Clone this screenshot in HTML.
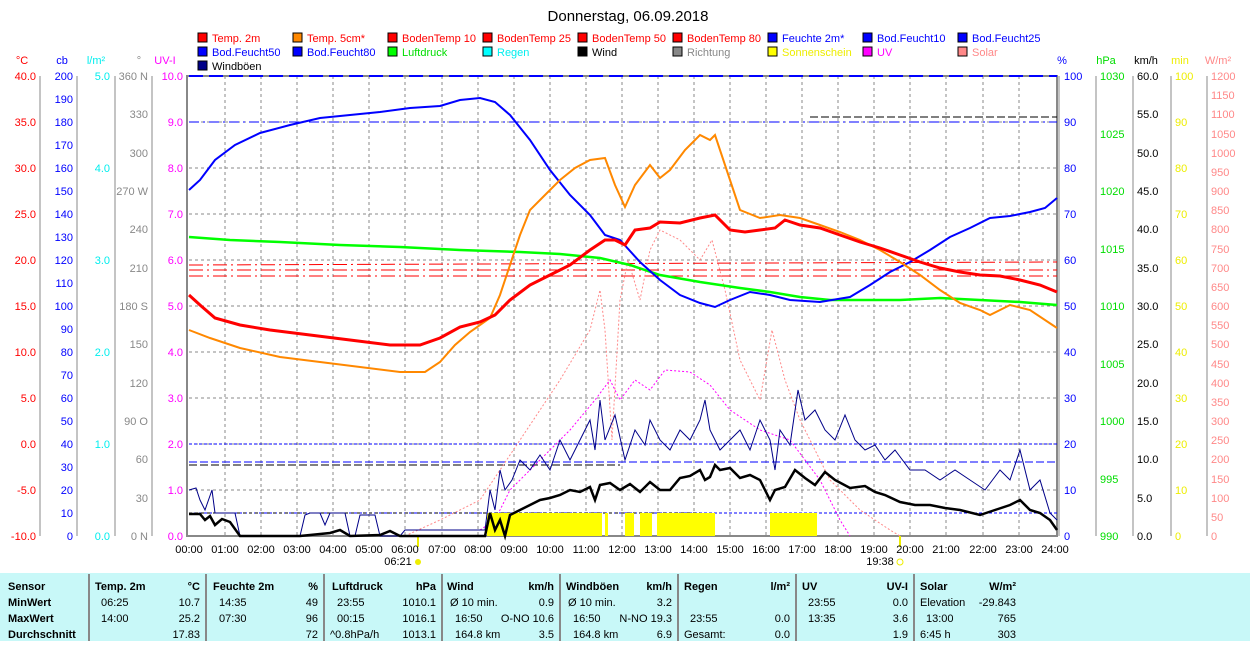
<!DOCTYPE html><html><head><meta charset="utf-8"><style>
body{margin:0;background:#fff;width:1250px;height:641px;overflow:hidden}
svg{font-family:"Liberation Sans",sans-serif;font-size:11px}
</style></head><body>
<svg width="1250" height="641" viewBox="0 0 1250 641">
<text x="628" y="21" font-size="15" text-anchor="middle">Donnerstag, 06.09.2018</text>
<!-- legend -->
<g font-size="11">
<rect x="198" y="33" width="9" height="9" fill="#f00" stroke="#000"/><text x="212" y="42" fill="#f00">Temp. 2m</text>
<rect x="293" y="33" width="9" height="9" fill="#f80" stroke="#000"/><text x="307" y="42" fill="#f00">Temp. 5cm*</text>
<rect x="388" y="33" width="9" height="9" fill="#f00" stroke="#000"/><text x="402" y="42" fill="#f00">BodenTemp 10</text>
<rect x="483" y="33" width="9" height="9" fill="#f00" stroke="#000"/><text x="497" y="42" fill="#f00">BodenTemp 25</text>
<rect x="578" y="33" width="9" height="9" fill="#f00" stroke="#000"/><text x="592" y="42" fill="#f00">BodenTemp 50</text>
<rect x="673" y="33" width="9" height="9" fill="#f00" stroke="#000"/><text x="687" y="42" fill="#f00">BodenTemp 80</text>
<rect x="768" y="33" width="9" height="9" fill="#00f" stroke="#000"/><text x="782" y="42" fill="#00f">Feuchte 2m*</text>
<rect x="863" y="33" width="9" height="9" fill="#00f" stroke="#000"/><text x="877" y="42" fill="#00f">Bod.Feucht10</text>
<rect x="958" y="33" width="9" height="9" fill="#00f" stroke="#000"/><text x="972" y="42" fill="#00f">Bod.Feucht25</text>
<rect x="198" y="47" width="9" height="9" fill="#00f" stroke="#000"/><text x="212" y="56" fill="#00f">Bod.Feucht50</text>
<rect x="293" y="47" width="9" height="9" fill="#00f" stroke="#000"/><text x="307" y="56" fill="#00f">Bod.Feucht80</text>
<rect x="388" y="47" width="9" height="9" fill="#0f0" stroke="#000"/><text x="402" y="56" fill="#0d0">Luftdruck</text>
<rect x="483" y="47" width="9" height="9" fill="#0ff" stroke="#000"/><text x="497" y="56" fill="#0ee">Regen</text>
<rect x="578" y="47" width="9" height="9" fill="#000" stroke="#000"/><text x="592" y="56">Wind</text>
<rect x="673" y="47" width="9" height="9" fill="#888" stroke="#000"/><text x="687" y="56" fill="#888">Richtung</text>
<rect x="768" y="47" width="9" height="9" fill="#ff0" stroke="#000"/><text x="782" y="56" fill="#ee0">Sonnenschein</text>
<rect x="863" y="47" width="9" height="9" fill="#f0f" stroke="#000"/><text x="877" y="56" fill="#f0f">UV</text>
<rect x="958" y="47" width="9" height="9" fill="#f88" stroke="#000"/><text x="972" y="56" fill="#f88">Solar</text>
<rect x="198" y="61" width="9" height="9" fill="#008" stroke="#000"/><text x="212" y="70">Windböen</text>
</g>
<!-- grid -->
<g stroke="#888" stroke-dasharray="3,3" stroke-width="1">
<line x1="189" y1="122" x2="1057" y2="122"/><line x1="189" y1="168" x2="1057" y2="168"/><line x1="189" y1="214" x2="1057" y2="214"/><line x1="189" y1="260" x2="1057" y2="260"/><line x1="189" y1="306" x2="1057" y2="306"/><line x1="189" y1="352" x2="1057" y2="352"/><line x1="189" y1="398" x2="1057" y2="398"/><line x1="189" y1="444" x2="1057" y2="444"/><line x1="189" y1="490" x2="1057" y2="490"/>
<line x1="225" y1="76" x2="225" y2="536"/><line x1="261" y1="76" x2="261" y2="536"/><line x1="297" y1="76" x2="297" y2="536"/><line x1="333" y1="76" x2="333" y2="536"/><line x1="369" y1="76" x2="369" y2="536"/><line x1="405" y1="76" x2="405" y2="536"/><line x1="442" y1="76" x2="442" y2="536"/><line x1="478" y1="76" x2="478" y2="536"/><line x1="514" y1="76" x2="514" y2="536"/><line x1="550" y1="76" x2="550" y2="536"/><line x1="586" y1="76" x2="586" y2="536"/><line x1="622" y1="76" x2="622" y2="536"/><line x1="658" y1="76" x2="658" y2="536"/><line x1="694" y1="76" x2="694" y2="536"/><line x1="730" y1="76" x2="730" y2="536"/><line x1="766" y1="76" x2="766" y2="536"/><line x1="802" y1="76" x2="802" y2="536"/><line x1="838" y1="76" x2="838" y2="536"/><line x1="874" y1="76" x2="874" y2="536"/><line x1="910" y1="76" x2="910" y2="536"/><line x1="946" y1="76" x2="946" y2="536"/><line x1="983" y1="76" x2="983" y2="536"/><line x1="1019" y1="76" x2="1019" y2="536"/>
</g>
<!-- plot frame -->
<rect x="187" y="76" width="870" height="460" fill="none" stroke="#888" stroke-width="2"/>
<!-- horizontal reference lines -->
<line x1="189" y1="76" x2="1057" y2="76" stroke="#00f" stroke-width="2" stroke-dasharray="14,6"/>
<line x1="189" y1="122" x2="1057" y2="122" stroke="#00f" stroke-dasharray="10,4,2,4"/>
<line x1="189" y1="444" x2="1057" y2="444" stroke="#00f" stroke-dasharray="3,2"/>
<line x1="189" y1="462" x2="1057" y2="462" stroke="#00f" stroke-dasharray="8,3"/>
<line x1="189" y1="513" x2="1057" y2="513" stroke="#00f" stroke-dasharray="3,2"/>
<line x1="189" y1="465" x2="620" y2="465" stroke="#000" stroke-dasharray="8,3"/>
<line x1="189" y1="513" x2="700" y2="513" stroke="#000" stroke-dasharray="3,3"/>
<line x1="810" y1="117" x2="1057" y2="117" stroke="#000" stroke-dasharray="8,3"/>
<g stroke="#f00" stroke-dasharray="14,4,2,4">
<line x1="189" y1="265" x2="1057" y2="262"/><line x1="189" y1="270" x2="1057" y2="270"/><line x1="189" y1="276" x2="1057" y2="276"/>
</g>
<!-- solar / uv dotted -->
<polyline fill="none" stroke="#f88" stroke-dasharray="2,2" points="405,536 440,520 480,500 520,440 560,380 590,330 600,290 605,330 612,440 620,300 628,260 640,300 650,250 660,230 680,240 700,260 712,240 725,290 740,360 760,400 772,330 785,380 800,420 830,480 860,510 890,530 900,536"/>
<polyline fill="none" stroke="#f0f" stroke-dasharray="2,2" points="480,530 495,520 510,490 540,460 570,430 595,400 610,380 620,400 635,380 650,390 665,370 690,372 710,385 730,410 760,430 790,440 820,480 840,520 850,536"/>
<!-- sunshine -->
<g fill="#ff0"><rect x="487" y="513" width="115" height="23"/><rect x="605" y="513" width="3" height="23"/><rect x="625" y="513" width="9" height="23"/><rect x="640" y="513" width="12" height="23"/><rect x="657" y="513" width="58" height="23"/><rect x="770" y="513" width="47" height="23"/></g>
<line x1="418" y1="536" x2="418" y2="547" stroke="#ee0" stroke-width="2"/>
<line x1="900" y1="536" x2="900" y2="547" stroke="#ee0" stroke-width="2"/>
<!-- gusts -->
<polyline fill="none" stroke="#008" points="189,490 196,488 200,500 205,510 212,490 215,513 220,513 228,513 235,513 240,536 300,536 305,515 310,513 320,513 325,525 330,513 335,513 345,513 350,536 355,536 360,515 375,515 380,536 400,536 405,530 485,530 490,490 495,510 500,470 505,490 512,480 520,460 530,470 540,455 550,470 560,440 570,460 580,440 590,420 595,450 600,400 605,440 615,415 625,460 635,430 645,445 650,420 660,440 670,450 680,430 690,440 700,420 705,400 710,430 720,450 730,440 740,430 750,450 760,420 770,440 775,470 780,430 790,445 798,390 805,420 815,410 825,430 835,440 845,415 855,440 865,450 875,445 885,460 895,450 910,470 925,470 940,480 955,470 970,480 985,490 1000,470 1010,480 1020,450 1030,490 1040,480 1050,513 1057,520"/>
<!-- wind -->
<polyline fill="none" stroke="#000" stroke-width="2.5" points="189,514 200,514 205,520 210,516 215,525 222,519 230,522 240,536 300,536 330,533 340,530 350,536 380,535 390,531 400,536 485,536 490,513 495,530 500,520 505,536 510,515 520,510 530,505 540,500 550,498 560,495 570,490 580,492 590,487 595,500 600,485 610,483 620,490 630,484 640,492 650,482 660,490 670,490 680,478 690,476 700,470 705,480 710,477 715,465 720,470 730,468 740,478 750,475 760,480 770,500 775,490 785,487 795,470 805,478 815,485 825,472 835,480 850,488 865,486 875,492 885,495 900,502 915,505 930,505 945,508 960,510 980,515 995,510 1010,505 1020,500 1030,510 1040,513 1050,520 1057,530"/>
<!-- pressure -->
<polyline fill="none" stroke="#0f0" stroke-width="2.5" points="189,237 230,240 280,242 340,245 400,247 460,250 520,252 560,254 600,258 630,265 660,275 700,282 740,288 770,292 800,297 830,300 860,300 900,300 940,298 980,300 1020,302 1057,305"/>
<!-- humidity -->
<polyline fill="none" stroke="#00f" stroke-width="2" points="189,190 200,180 215,160 235,145 260,133 290,125 320,118 350,115 380,112 410,108 440,106 460,100 480,98 495,102 510,115 530,140 550,170 570,195 590,215 605,235 620,240 640,262 660,280 680,295 700,303 715,307 730,300 750,292 770,295 790,300 820,302 850,297 870,285 890,272 910,262 930,250 950,237 970,228 990,218 1010,216 1030,212 1045,208 1057,198"/>
<!-- temp 5cm -->
<polyline fill="none" stroke="#f80" stroke-width="2" points="189,330 210,338 240,348 280,357 320,362 360,367 400,372 425,372 440,362 455,345 470,332 490,318 500,295 510,265 520,235 530,210 545,195 560,180 575,168 590,160 605,158 615,185 625,207 635,185 650,165 660,178 670,170 685,150 700,135 710,140 715,135 725,165 740,210 760,218 780,215 800,218 820,225 840,232 860,240 880,250 900,262 920,275 940,290 960,303 980,310 990,315 1010,305 1030,310 1057,328"/>
<!-- temp 2m -->
<polyline fill="none" stroke="#f00" stroke-width="3" points="189,295 200,305 215,318 240,325 270,330 310,335 350,340 390,345 420,345 440,338 460,327 480,322 495,315 510,300 530,285 550,275 570,265 590,250 605,240 615,240 625,245 635,230 650,228 660,222 680,223 700,218 715,215 730,230 745,232 760,230 775,228 785,220 800,225 820,228 840,235 860,242 880,248 900,255 920,262 940,268 960,272 980,275 1000,276 1020,280 1040,285 1057,292"/>
<!-- left axes -->
<g stroke="#888"><line x1="40" y1="76" x2="40" y2="536"/><line x1="77" y1="76" x2="77" y2="536"/><line x1="115" y1="76" x2="115" y2="536"/><line x1="152" y1="76" x2="152" y2="536"/>
<line x1="1059" y1="76" x2="1059" y2="536"/><line x1="1096" y1="76" x2="1096" y2="536"/><line x1="1133" y1="76" x2="1133" y2="536"/><line x1="1171" y1="76" x2="1171" y2="536"/><line x1="1207" y1="76" x2="1207" y2="536"/></g>
<g font-size="11" text-anchor="middle"><text x="22" y="64" fill="#f00">°C</text><text x="62" y="64" fill="#00f">cb</text><text x="96" y="64" fill="#0ee">l/m²</text><text x="139" y="64" fill="#888">°</text><text x="165" y="64" fill="#f0f">UV-I</text>
<text x="1062" y="64" fill="#00f">%</text><text x="1106" y="64" fill="#0d0">hPa</text><text x="1146" y="64" fill="#000">km/h</text><text x="1180" y="64" fill="#ee0">min</text><text x="1218" y="64" fill="#f88">W/m²</text></g>
<g font-size="11" text-anchor="end">
<g fill="#f00"><text x="36" y="80">40.0</text><text x="36" y="126">35.0</text><text x="36" y="172">30.0</text><text x="36" y="218">25.0</text><text x="36" y="264">20.0</text><text x="36" y="310">15.0</text><text x="36" y="356">10.0</text><text x="36" y="402">5.0</text><text x="36" y="448">0.0</text><text x="36" y="494">-5.0</text><text x="36" y="540">-10.0</text></g>
<g fill="#00f"><text x="73" y="80">200</text><text x="73" y="103">190</text><text x="73" y="126">180</text><text x="73" y="149">170</text><text x="73" y="172">160</text><text x="73" y="195">150</text><text x="73" y="218">140</text><text x="73" y="241">130</text><text x="73" y="264">120</text><text x="73" y="287">110</text><text x="73" y="310">100</text><text x="73" y="333">90</text><text x="73" y="356">80</text><text x="73" y="379">70</text><text x="73" y="402">60</text><text x="73" y="425">50</text><text x="73" y="448">40</text><text x="73" y="471">30</text><text x="73" y="494">20</text><text x="73" y="517">10</text><text x="73" y="540">0</text></g>
<g fill="#0ee"><text x="110" y="80">5.0</text><text x="110" y="172">4.0</text><text x="110" y="264">3.0</text><text x="110" y="356">2.0</text><text x="110" y="448">1.0</text><text x="110" y="540">0.0</text></g>
<g fill="#888"><text x="148" y="80">360 N</text><text x="148" y="118">330</text><text x="148" y="157">300</text><text x="148" y="195">270 W</text><text x="148" y="233">240</text><text x="148" y="272">210</text><text x="148" y="310">180 S</text><text x="148" y="348">150</text><text x="148" y="387">120</text><text x="148" y="425">90  O</text><text x="148" y="463">60</text><text x="148" y="502">30</text><text x="148" y="540">0  N</text></g>
<g fill="#f0f"><text x="183" y="80">10.0</text><text x="183" y="126">9.0</text><text x="183" y="172">8.0</text><text x="183" y="218">7.0</text><text x="183" y="264">6.0</text><text x="183" y="310">5.0</text><text x="183" y="356">4.0</text><text x="183" y="402">3.0</text><text x="183" y="448">2.0</text><text x="183" y="494">1.0</text><text x="183" y="540">0.0</text></g>
</g>
<g font-size="11">
<g fill="#00f"><text x="1064" y="80">100</text><text x="1064" y="126">90</text><text x="1064" y="172">80</text><text x="1064" y="218">70</text><text x="1064" y="264">60</text><text x="1064" y="310">50</text><text x="1064" y="356">40</text><text x="1064" y="402">30</text><text x="1064" y="448">20</text><text x="1064" y="494">10</text><text x="1064" y="540">0</text></g>
<g fill="#0d0"><text x="1100" y="80">1030</text><text x="1100" y="138">1025</text><text x="1100" y="195">1020</text><text x="1100" y="253">1015</text><text x="1100" y="310">1010</text><text x="1100" y="368">1005</text><text x="1100" y="425">1000</text><text x="1100" y="483">995</text><text x="1100" y="540">990</text></g>
<g fill="#000"><text x="1137" y="80">60.0</text><text x="1137" y="118">55.0</text><text x="1137" y="157">50.0</text><text x="1137" y="195">45.0</text><text x="1137" y="233">40.0</text><text x="1137" y="272">35.0</text><text x="1137" y="310">30.0</text><text x="1137" y="348">25.0</text><text x="1137" y="387">20.0</text><text x="1137" y="425">15.0</text><text x="1137" y="463">10.0</text><text x="1137" y="502">5.0</text><text x="1137" y="540">0.0</text></g>
<g fill="#ee0"><text x="1175" y="80">100</text><text x="1175" y="126">90</text><text x="1175" y="172">80</text><text x="1175" y="218">70</text><text x="1175" y="264">60</text><text x="1175" y="310">50</text><text x="1175" y="356">40</text><text x="1175" y="402">30</text><text x="1175" y="448">20</text><text x="1175" y="494">10</text><text x="1175" y="540">0</text></g>
<g fill="#f88"><text x="1211" y="80">1200</text><text x="1211" y="99">1150</text><text x="1211" y="118">1100</text><text x="1211" y="138">1050</text><text x="1211" y="157">1000</text><text x="1211" y="176">950</text><text x="1211" y="195">900</text><text x="1211" y="214">850</text><text x="1211" y="233">800</text><text x="1211" y="253">750</text><text x="1211" y="272">700</text><text x="1211" y="291">650</text><text x="1211" y="310">600</text><text x="1211" y="329">550</text><text x="1211" y="348">500</text><text x="1211" y="368">450</text><text x="1211" y="387">400</text><text x="1211" y="406">350</text><text x="1211" y="425">300</text><text x="1211" y="444">250</text><text x="1211" y="463">200</text><text x="1211" y="483">150</text><text x="1211" y="502">100</text><text x="1211" y="521">50</text><text x="1211" y="540">0</text></g>
</g>
<!-- time labels -->
<g font-size="11" text-anchor="middle">
<text x="189" y="553">00:00</text><text x="225" y="553">01:00</text><text x="261" y="553">02:00</text><text x="297" y="553">03:00</text><text x="333" y="553">04:00</text><text x="369" y="553">05:00</text><text x="405" y="553">06:00</text><text x="442" y="553">07:00</text><text x="478" y="553">08:00</text><text x="514" y="553">09:00</text><text x="550" y="553">10:00</text><text x="586" y="553">11:00</text><text x="622" y="553">12:00</text><text x="658" y="553">13:00</text><text x="694" y="553">14:00</text><text x="730" y="553">15:00</text><text x="766" y="553">16:00</text><text x="802" y="553">17:00</text><text x="838" y="553">18:00</text><text x="874" y="553">19:00</text><text x="910" y="553">20:00</text><text x="946" y="553">21:00</text><text x="983" y="553">22:00</text><text x="1019" y="553">23:00</text><text x="1055" y="553">24:00</text>
<text x="398" y="565">06:21</text><text x="880" y="565">19:38</text></g>
<circle cx="418" cy="562" r="3" fill="#ee0"/><circle cx="900" cy="562" r="3" fill="none" stroke="#ee0"/>
<!-- table -->
<rect x="0" y="573" width="1250" height="68" fill="#c8f8f8"/>
<g stroke="#888" stroke-width="2"><line x1="89" y1="574" x2="89" y2="641"/><line x1="206" y1="574" x2="206" y2="641"/><line x1="324" y1="574" x2="324" y2="641"/><line x1="442" y1="574" x2="442" y2="641"/><line x1="560" y1="574" x2="560" y2="641"/><line x1="678" y1="574" x2="678" y2="641"/><line x1="796" y1="574" x2="796" y2="641"/><line x1="914" y1="574" x2="914" y2="641"/></g>
<g font-size="11" font-weight="bold"><text x="8" y="590">Sensor</text><text x="8" y="606">MinWert</text><text x="8" y="622">MaxWert</text><text x="8" y="638">Durchschnitt</text>
<text x="95" y="590">Temp. 2m</text><text x="213" y="590">Feuchte 2m</text><text x="332" y="590">Luftdruck</text><text x="447" y="590">Wind</text><text x="566" y="590">Windböen</text><text x="684" y="590">Regen</text><text x="802" y="590">UV</text><text x="920" y="590">Solar</text>
<g text-anchor="end"><text x="200" y="590">°C</text><text x="318" y="590">%</text><text x="436" y="590">hPa</text><text x="554" y="590">km/h</text><text x="672" y="590">km/h</text><text x="790" y="590">l/m²</text><text x="908" y="590">UV-I</text><text x="1016" y="590">W/m²</text></g></g>
<g font-size="11">
<text x="101" y="606">06:25</text><text x="101" y="622">14:00</text>
<text x="219" y="606">14:35</text><text x="219" y="622">07:30</text>
<text x="337" y="606">23:55</text><text x="337" y="622">00:15</text><text x="330" y="638">^0.8hPa/h</text>
<text x="450" y="606">Ø 10 min.</text><text x="455" y="622">16:50</text><text x="455" y="638">164.8 km</text>
<text x="568" y="606">Ø 10 min.</text><text x="573" y="622">16:50</text><text x="573" y="638">164.8 km</text>
<text x="690" y="622">23:55</text><text x="684" y="638">Gesamt:</text>
<text x="808" y="606">23:55</text><text x="808" y="622">13:35</text>
<text x="920" y="606">Elevation</text><text x="926" y="622">13:00</text><text x="920" y="638">6:45 h</text>
<g text-anchor="end">
<text x="200" y="606">10.7</text><text x="200" y="622">25.2</text><text x="200" y="638">17.83</text>
<text x="318" y="606">49</text><text x="318" y="622">96</text><text x="318" y="638">72</text>
<text x="436" y="606">1010.1</text><text x="436" y="622">1016.1</text><text x="436" y="638">1013.1</text>
<text x="554" y="606">0.9</text><text x="554" y="622">O-NO 10.6</text><text x="554" y="638">3.5</text>
<text x="672" y="606">3.2</text><text x="672" y="622">N-NO 19.3</text><text x="672" y="638">6.9</text>
<text x="790" y="622">0.0</text><text x="790" y="638">0.0</text>
<text x="908" y="606">0.0</text><text x="908" y="622">3.6</text><text x="908" y="638">1.9</text>
<text x="1016" y="606">-29.843</text><text x="1016" y="622">765</text><text x="1016" y="638">303</text></g></g>
</svg></body></html>
